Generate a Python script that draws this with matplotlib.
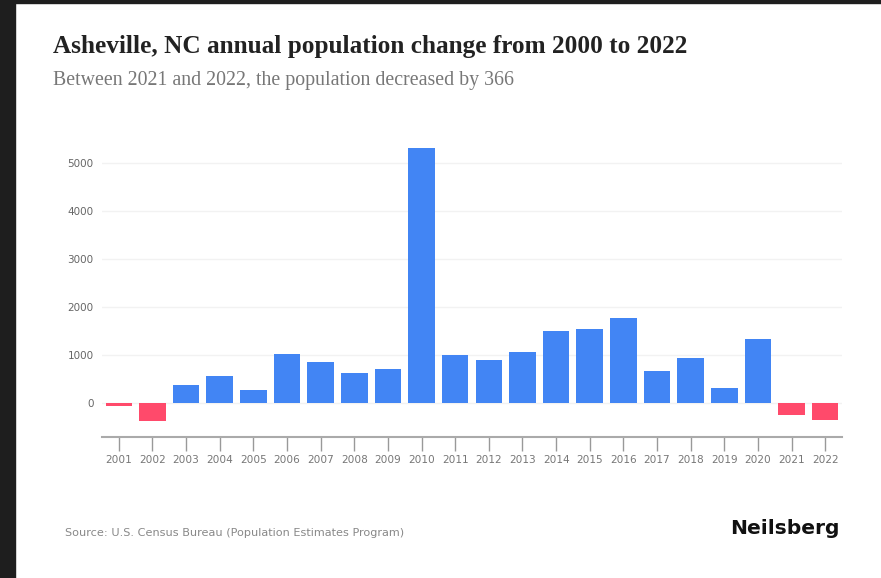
import matplotlib
matplotlib.use("Agg")
import matplotlib.pyplot as plt
import matplotlib.patches as patches

years = [str(y) for y in range(2001, 2023)]
change = [-70, -368, 382, 555, 278, 1028, 847, 632, 701, 5313, 1000,
          889, 1056, 1493, 1549, 1764, 660, 931, 313, 1333, -243, -366]
yticks = [0, 1000, 2000, 3000, 4000, 5000]

BLUE = "#4285f4"
RED = "#ff4a6b"

W, H = 881, 578
fig = plt.figure(figsize=(W / 100, H / 100), dpi=100)
fig.patch.set_facecolor("white")

# dark frame on left and top edges of the screenshot
fig.add_artist(patches.Rectangle((0, 0), 15 / W, 1, transform=fig.transFigure,
                                 color="#1e1e1e", zorder=0))
fig.add_artist(patches.Rectangle((0, 1 - 3 / H), 1, 3 / H, transform=fig.transFigure,
                                 color="#1e1e1e", zorder=0))

ax = fig.add_axes([102 / W, 1 - 436.5 / H, (842 - 102) / W, (436.5 - 144) / H])

colors = [BLUE if v >= 0 else RED for v in change]
x = range(len(years))
ax.bar(x, change, width=0.79, color=colors, zorder=3)

ax.set_xlim(-0.5, len(years) - 0.5)
ax.set_ylim(-700, 5400)
ax.set_yticks(yticks)
ax.set_yticklabels([str(t) for t in yticks])
ax.set_xticks(list(x))
ax.set_xticklabels(years)

ax.grid(axis="y", color="#f2f2f2", linewidth=1, zorder=0)
for s in ["top", "right", "left"]:
    ax.spines[s].set_visible(False)
ax.spines["bottom"].set_color("#aaaaaa")
ax.spines["bottom"].set_linewidth(1.5)

ax.tick_params(axis="y", length=0, pad=6, labelsize=7.5, labelcolor="#666666")
ax.tick_params(axis="x", length=10, width=1, color="#999999", pad=3,
               labelsize=7.6, labelcolor="#777777")

fig.text(53 / W, 1 - 47 / H, "Asheville, NC annual population change from 2000 to 2022",
         fontfamily="Liberation Serif", fontweight="bold", fontsize=18.2,
         color="#222222", va="center", ha="left")
fig.text(53 / W, 1 - 80 / H, "Between 2021 and 2022, the population decreased by 366",
         fontfamily="Liberation Serif", fontsize=14.3,
         color="#777777", va="center", ha="left")
fig.text(65 / W, 1 - 533 / H, "Source: U.S. Census Bureau (Population Estimates Program)",
         fontfamily="DejaVu Sans", fontsize=8.1, color="#888888",
         va="center", ha="left")
fig.text(840 / W, 1 - 528 / H, "Neilsberg", fontfamily="DejaVu Sans",
         fontweight="bold", fontsize=14.6, color="#111111", va="center", ha="right")

fig.savefig("out.png", dpi=100, facecolor="white")
